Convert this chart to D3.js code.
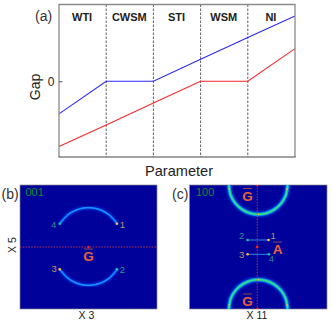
<!DOCTYPE html>
<html>
<head>
<meta charset="utf-8">
<script src="https://d3js.org/d3.v7.min.js"></script>
<style>
html, body { margin: 0; padding: 0; background: #fff; overflow: hidden; }
text { font-family: "Liberation Sans", Arial, sans-serif; }
</style>
</head>
<body>
<svg id="chart" width="332" height="327"></svg>
<script>
// panel (a)
var phases = ["WTI", "CWSM", "STI", "WSM", "NI"];
var params = [0, 1, 2, 3, 4, 5];
var blueGap = [-1, 0, 0, 0.67, 1.34, 2];
var redGap = [-2, -1.34, -0.67, 0, 0, 1];

// panel (b), momentum units, arcs
var arcX = [-0.42, -0.3, -0.2, -0.1, 0, 0.1, 0.2, 0.3, 0.42];
var arcTopY = [0.376, 0.521, 0.587, 0.623, 0.634, 0.623, 0.587, 0.521, 0.376];
var arcBottomY = [-0.36, -0.505, -0.571, -0.607, -0.618, -0.607, -0.571, -0.505, -0.36];
var bNodes = ["1", "2", "3", "4"];
var bNodeX = [0.415, 0.415, -0.42, -0.42];
var bNodeY = [0.376, -0.36, -0.36, 0.376];

// panel (c)
var ringX = [-0.43, -0.42, -0.4, -0.33, -0.22, -0.1, 0, 0.1, 0.22, 0.33, 0.4, 0.42, 0.43];
var ringDepth = [1.03, 0.935, 0.832, 0.7, 0.595, 0.54, 0.527, 0.54, 0.595, 0.7, 0.832, 0.935, 1.03];
var ringSpotX = [-0.42, 0, 0.42];
var ringSpotY = [0.935, 0.527, 0.935];
var cSegX = [-0.155, 0.15];
var cNodes = ["1", "2", "3", "4"];
var cNodeX = [0.15, -0.155, -0.155, 0.155];
var cNodeY = [0.113, 0.113, -0.118, -0.118];

var svg = d3.select("#chart");
var defs = svg.append("defs");
defs.append("filter").attr("id", "blur1").append("feGaussianBlur").attr("stdDeviation", 0.9);
defs.append("filter").attr("id", "blur2").append("feGaussianBlur").attr("stdDeviation", 0.45);

var x = d3.scaleLinear().domain([0, 5]).range([59, 295]);
var y = d3.scaleLinear().domain([-2.32, 2.35]).range([157, 4.5]);

var frameColor = "#555";

// vertical phase borders
svg.selectAll(".phaseLine")
    .data(params.slice(1, 5))
  .enter().append("line")
    .attr("class", "phaseLine")
    .attr("x1", function(d) { return x(d); })
    .attr("x2", function(d) { return x(d); })
    .attr("y1", y.range()[1])
    .attr("y2", y.range()[0])
    .attr("stroke", "#333")
    .attr("stroke-width", 0.8)
    .attr("stroke-dasharray", "2.5,1.5");

var gapLine = d3.line()
    .x(function(d, i) { return x(params[i]); })
    .y(function(d) { return y(d); });

svg.append("path").attr("d", gapLine(blueGap))
    .attr("fill", "none").attr("stroke", "#2a2af5").attr("stroke-width", 1.1);
svg.append("path").attr("d", gapLine(redGap))
    .attr("fill", "none").attr("stroke", "#f52a2a").attr("stroke-width", 1.1);

// frame, left and top print lighter than the bottom
svg.append("path").attr("d", "M59,157V4.5H295V157")
    .attr("fill", "none").attr("stroke", "#8a8a8a").attr("stroke-width", 1.3);
svg.append("line").attr("x1", 58.5).attr("x2", 295.5).attr("y1", 157).attr("y2", 157)
    .attr("stroke", "#444").attr("stroke-width", 1);

// zero tick on the gap axis
svg.append("g")
    .attr("transform", "translate(59,0)")
    .call(d3.axisLeft(y).tickValues([0]).tickSize(-3.5).tickPadding(4.5).tickFormat(d3.format("d")))
    .call(function(g) {
      g.select(".domain").remove();
      g.selectAll("line").attr("stroke", frameColor);
      g.selectAll("text").attr("font-size", 12).attr("fill", "#222").attr("font-family", "Liberation Sans");
    });

svg.selectAll(".phase")
    .data(phases)
  .enter().append("text")
    .attr("class", "phase")
    .attr("x", function(d, i) { return x(i + 0.5) - 0.5; })
    .attr("y", 21)
    .attr("text-anchor", "middle")
    .attr("font-size", 11)
    .attr("font-weight", "bold")
    .attr("fill", "#222")
    .text(function(d) { return d; });

svg.append("text").attr("x", 35).attr("y", 20.5).attr("font-size", 14).attr("fill", "#333").text("(a)");
svg.append("text").attr("x", 179).attr("y", 176).attr("text-anchor", "middle")
    .attr("font-size", 14.6).attr("fill", "#222").text("Parameter");
svg.append("text").attr("transform", "translate(40,87) rotate(-90)").attr("text-anchor", "middle")
    .attr("font-size", 14).attr("fill", "#222").text("Gap");

// heatmap panels
var bgBlue = "#00009a";

function makePanel(left, right) {
  var panel = {};
  panel.x = d3.scaleLinear().domain([-1, 1]).range([left, right]);
  panel.y = d3.scaleLinear().domain([-1, 1]).range([309, 185]);
  var id = "clip" + Math.round(left);
  defs.append("clipPath").attr("id", id).append("rect")
      .attr("x", left).attr("y", 185).attr("width", right - left).attr("height", 124);
  svg.append("rect")
      .attr("x", left).attr("y", 185).attr("width", right - left).attr("height", 124)
      .attr("fill", bgBlue)
      .attr("stroke", "#8a8a8a").attr("stroke-width", 0.7);
  panel.g = svg.append("g").attr("clip-path", "url(#" + id + ")");
  panel.line = d3.line()
      .x(function(d) { return panel.x(d[0]); })
      .y(function(d) { return panel.y(d[1]); })
      .curve(d3.curveCatmullRom);
  return panel;
}

// layered strokes stand in for the jet colour map
function glow(panel, pts, layers) {
  layers.forEach(function(l) {
    panel.g.append("path")
        .attr("d", panel.line(pts))
        .attr("fill", "none")
        .attr("stroke", l[0])
        .attr("stroke-width", l[1])
        .attr("stroke-linecap", "butt")
        .attr("filter", l[2] ? "url(#" + l[2] + ")" : null);
  });
}

function nodes(panel, names, xs, ys, colors, labelDx, labelDy, labelColors) {
  names.forEach(function(n, i) {
    panel.g.append("circle")
        .attr("cx", panel.x(xs[i])).attr("cy", panel.y(ys[i])).attr("r", 1.3)
        .attr("fill", colors[i]);
    svg.append("text")
        .attr("x", panel.x(xs[i]) + labelDx[i])
        .attr("y", panel.y(ys[i]) + labelDy[i])
        .attr("text-anchor", "middle")
        .attr("font-size", 9.5)
        .attr("fill", labelColors[i])
        .text(n);
  });
}

function overG(cx, cy, txt) {
  svg.append("text").attr("x", cx).attr("y", cy).attr("text-anchor", "middle")
      .attr("font-size", 13.5).attr("font-weight", "bold").attr("fill", "#e8623a").text(txt);
  svg.append("line").attr("x1", cx - 4.5).attr("x2", cx + 4.5)
      .attr("y1", cy - 12).attr("y2", cy - 12)
      .attr("stroke", "#8a4a50").attr("stroke-width", 1);
}

var thinArc = [["#0030e0", 3.6, "blur1"], ["#0070ff", 1.8, "blur2"], ["#30a8ff", 0.8, null]];
var ringLayers = [["#0030d0", 6, "blur1"], ["#0090f0", 3.6, "blur2"], ["#20d8a0", 1.8, "blur2"], ["#50e070", 0.7, null]];

// (b)
var b = makePanel(20, 157);
glow(b, arcX.map(function(d, i) { return [d, arcTopY[i]]; }), thinArc);
glow(b, arcX.map(function(d, i) { return [d, arcBottomY[i]]; }), thinArc);
b.g.append("line")
    .attr("x1", b.x(-1)).attr("x2", b.x(1))
    .attr("y1", b.y(0)).attr("y2", b.y(0))
    .attr("stroke", "#d0403a").attr("stroke-width", 0.8).attr("stroke-dasharray", "1.6,1.2");
b.g.append("circle").attr("cx", b.x(0)).attr("cy", b.y(0)).attr("r", 1.3).attr("fill", "#f02020");
nodes(b, bNodes, bNodeX, bNodeY,
    ["#ffc040", "#10d0a0", "#ffc040", "#10d0a0"],
    [5.5, 5.5, -5.5, -6], [4, 3.5, 3, 4],
    ["#b09a70", "#2a9a90", "#c09a60", "#3a8a90"]);
overG(88.5, 261, "G");
svg.append("text").attr("x", 25.5).attr("y", 196).attr("font-size", 11).attr("fill", "#0a9030").text("001");
svg.append("text").attr("x", 1.5).attr("y", 199).attr("font-size", 14).attr("fill", "#333").text("(b)");
svg.append("text").attr("x", 86.5).attr("y", 319).attr("text-anchor", "middle").attr("font-size", 10.5).attr("fill", "#222").text("X 3");
svg.append("text").attr("transform", "translate(16,245) rotate(-90)").attr("text-anchor", "middle").attr("font-size", 10.5).attr("fill", "#222").text("X 5");

// (c)
var c = makePanel(189.5, 327);
glow(c, ringX.map(function(d, i) { return [d, ringDepth[i]]; }), ringLayers);
glow(c, ringX.map(function(d, i) { return [d, -ringDepth[i]]; }), ringLayers);
ringSpotX.forEach(function(d, i) {
  [1, -1].forEach(function(s) {
    c.g.append("circle").attr("cx", c.x(d)).attr("cy", c.y(s * ringSpotY[i])).attr("r", 1)
        .attr("fill", "#f0b030").attr("filter", "url(#blur2)");
  });
});
glow(c, cSegX.map(function(d) { return [d, cNodeY[0]]; }), thinArc);
glow(c, cSegX.map(function(d) { return [d, cNodeY[2]]; }), thinArc);
c.g.append("line")
    .attr("x1", c.x(-0.015)).attr("x2", c.x(-0.015))
    .attr("y1", c.y(1)).attr("y2", c.y(-1))
    .attr("stroke", "#d0403a").attr("stroke-width", 0.8).attr("stroke-dasharray", "1.6,1.2");
[1, 0, -1].forEach(function(v) {
  c.g.append("circle").attr("cx", c.x(-0.015)).attr("cy", c.y(v)).attr("r", 1.4).attr("fill", "#f02020");
});
nodes(c, cNodes, cNodeX, cNodeY,
    ["#ffc040", "#10d0a0", "#ffc040", "#10d0a0"],
    [4.5, -6, -6, 2.5], [-0.5, -0.5, 3.5, 8],
    ["#b09a70", "#2a8a90", "#c09a60", "#2a8a90"]);
overG(247.5, 200.5, "G");
overG(247.5, 306, "G");
overG(277.5, 254, "A");
svg.append("text").attr("x", 196).attr("y", 196).attr("font-size", 11).attr("fill", "#0a9030").text("100");
svg.append("text").attr("x", 172).attr("y", 199).attr("font-size", 14).attr("fill", "#333").text("(c)");
svg.append("text").attr("x", 257).attr("y", 319).attr("text-anchor", "middle").attr("font-size", 10.5).attr("fill", "#222").text("X 11");
</script>
</body>
</html>
